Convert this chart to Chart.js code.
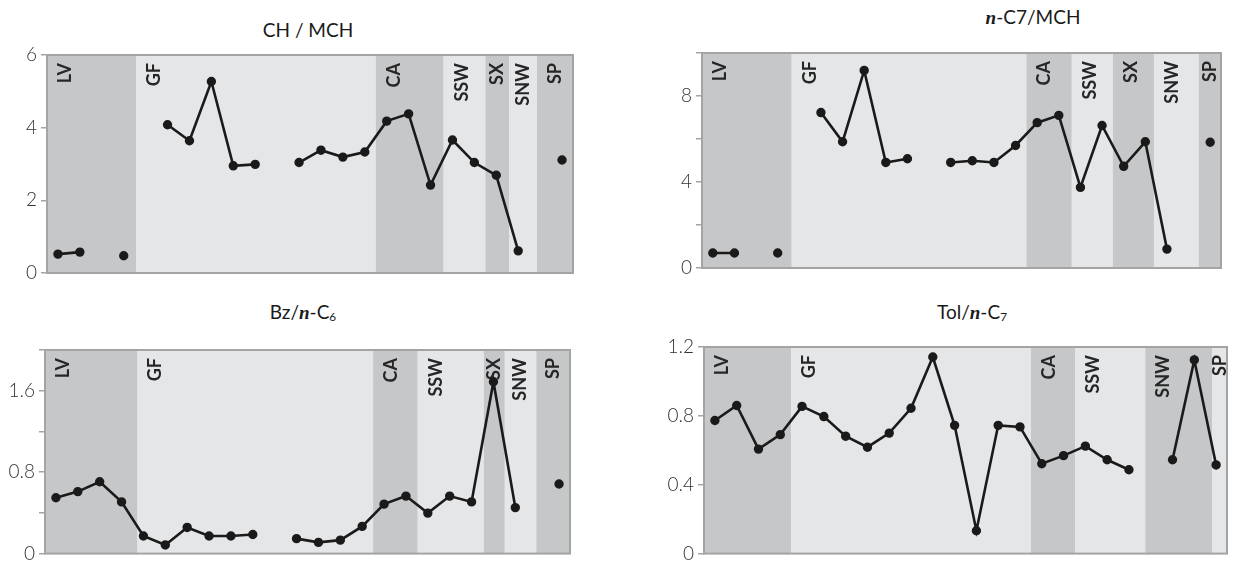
<!DOCTYPE html>
<html>
<head>
<meta charset="utf-8">
<script src="https://cdn.jsdelivr.net/npm/chart.js@4.4.1/dist/chart.umd.min.js"></script>
<style>
  body { margin: 0; background: #fff; }
  #page { position: relative; width: 1233px; height: 569px; overflow: hidden; font-family: Lato, "DejaVu Sans", sans-serif; }
  canvas { position: absolute; }
  .title { position: absolute; transform: translate(-50%, -50%); font-size: 19px; color: #1a1a1a; white-space: nowrap; }
  .title i { font-family: "Liberation Serif", serif; font-weight: bold; }
  .title sub { font-size: 0.62em; vertical-align: -0.2em; }
</style>
</head>
<body>
<div id="page">
  <div class="title" style="left:308px;top:29px">CH / MCH</div>
  <div class="title" style="left:1033px;top:17px"><i>n</i>-C7/MCH</div>
  <div class="title" style="left:303px;top:312px">Bz/<i>n</i>-C<sub>6</sub></div>
  <div class="title" style="left:972px;top:312px">Tol/<i>n</i>-C<sub>7</sub></div>
  <canvas id="chMch" width="600" height="290" style="left:0;top:0"></canvas>
  <canvas id="nc7Mch" width="613" height="290" style="left:620px;top:0"></canvas>
  <canvas id="bzNc6" width="600" height="279" style="left:0;top:290px"></canvas>
  <canvas id="tolNc7" width="613" height="279" style="left:620px;top:290px"></canvas>
</div>
<script>
// 24 samples along x, null = no measurement
const samples = ["1", "2", "3", "4", "5", "6", "7", "8", "9", "10", "11", "12",
  "13", "14", "15", "16", "17", "18", "19", "20", "21", "22", "23", "24"];

const chMch = [0.52, 0.575, null, 0.475, null, 4.08, 3.64, 5.27, 2.95, 2.99, null, 3.04,
  3.38, 3.19, 3.33, 4.18, 4.38, 2.42, 3.66, 3.04, 2.69, 0.61, null, 3.11];
const nc7Mch = [0.7, 0.7, null, 0.7, null, 7.23, 5.87, 9.19, 4.91, 5.08, null, 4.91,
  4.99, 4.91, 5.7, 6.76, 7.1, 3.75, 6.63, 4.73, 5.87, 0.88, null, 5.85];
const bzNc6 = [0.549, 0.609, 0.706, 0.508, 0.173, 0.085, 0.257, 0.173, 0.173, 0.188, null, 0.147,
  0.11, 0.132, 0.267, 0.486, 0.565, 0.398, 0.565, 0.508, 1.688, 0.452, null, 0.684];
const tolNc7 = [0.773, 0.86, 0.607, 0.691, 0.855, 0.796, 0.682, 0.618, 0.7, 0.844, 1.142, 0.745,
  0.133, 0.745, 0.736, 0.522, 0.569, 0.624, 0.545, 0.487, null, 0.545, 1.125, 0.515];

// sample groups: names and where each group ends (in samples)
const groups1 = ["LV", "GF", "CA", "SSW", "SX", "SNW", "SP"];
const groupEnds1 = [4.08, 15, 18.1, 20, 21.1, 22.35, 24];
const groups2 = ["LV", "GF", "CA", "SSW", "SX", "SNW", "SP"];
const groupEnds2 = [4.15, 15, 17.1, 19, 20.9, 22.97, 24];
const groups3 = ["LV", "GF", "CA", "SSW", "SX", "SNW", "SP"];
const groupEnds3 = [4.23, 15, 17.04, 20.06, 21.02, 22.46, 24];
const groups4 = ["LV", "GF", "CA", "SSW", "SNW", "SP"];
const groupEnds4 = [4, 15, 17.03, 20.25, 23.33, 24];

// y axes: max, tick step, label only every n units
const yAxis1 = [6, 2, 2];
const yAxis2 = [10, 2, 4];
const yAxis3 = [2, 0.4, 0.8];
const yAxis4 = [1.2, 0.4, 0.4];

Chart.defaults.font.family = "Lato, 'DejaVu Sans', sans-serif";

const bands = {
  id: "bands",
  beforeDatasetsDraw(chart, args, opts) {
    const { ctx, chartArea: a, scales: { x } } = chart;
    ctx.save();
    let start = 0;
    opts.ends.forEach((end, i) => {
      const l = x.getPixelForValue(start - 0.5);
      const r = x.getPixelForValue(end - 0.5);
      ctx.fillStyle = i % 2 ? "#e5e6e8" : "#c6c7c9";
      ctx.fillRect(l, a.top, r - l, a.bottom - a.top);
      start = end;
    });
    ctx.strokeStyle = "#a4a4a4";
    ctx.lineWidth = 2;
    ctx.strokeRect(a.left, a.top, a.right - a.left, a.bottom - a.top);

    ctx.font = "bold 18px Lato, 'DejaVu Sans', sans-serif";
    ctx.fillStyle = "#262626";
    ctx.textAlign = "right";
    ctx.textBaseline = "middle";
    start = 0;
    opts.names.forEach((name, i) => {
      const l = x.getPixelForValue(start - 0.5);
      const r = x.getPixelForValue(opts.ends[i] - 0.5);
      ctx.save();
      ctx.translate(l + Math.min(18, (r - l) / 2), a.top + 8);
      ctx.rotate(-Math.PI / 2);
      ctx.fillText(name, 0, 0);
      ctx.restore();
      start = opts.ends[i];
    });
    ctx.restore();
  },
};

function makePanel(id, values, names, ends, yAxis, box) {
  const [max, step, every] = yAxis;
  return new Chart(id, {
    type: "line",
    data: {
      labels: samples,
      datasets: [
        {
          data: values,
          borderColor: "#1a1a1a",
          backgroundColor: "#1a1a1a",
          borderWidth: 2.6,
          pointRadius: 3.4,
          pointHoverRadius: 3.4,
          tension: 0,
          spanGaps: false,
          clip: false,
        },
      ],
    },
    options: {
      responsive: false,
      animation: false,
      layout: { padding: { left: 0, top: box.top, right: box.right, bottom: box.bottom } },
      plugins: {
        legend: { display: false },
        tooltip: { enabled: false },
        bands: { names: names, ends: ends },
      },
      scales: {
        x: { display: false, offset: true },
        y: {
          min: 0,
          max: max,
          afterFit: (s) => { s.width = box.left; },
          border: { display: false },
          grid: { drawOnChartArea: false, drawTicks: true, tickLength: 6, color: "#a4a4a4", lineWidth: 1.5 },
          ticks: {
            stepSize: step,
            autoSkip: false,
            padding: 4,
            color: "#333",
            font: { size: 19, weight: "300" },
            callback: function (value) {
              const k = value / every;
              const v = Math.round(value * 1000) / 1000;
              return Math.abs(k - Math.round(k)) < 1e-6 ? String(v) : "";
            },
          },
        },
      },
    },
    plugins: [bands],
  });
}

makePanel("chMch", chMch, groups1, groupEnds1, yAxis1, { left: 47, top: 55, right: 27, bottom: 17 });
makePanel("nc7Mch", nc7Mch, groups2, groupEnds2, yAxis2, { left: 82, top: 53, right: 12, bottom: 22 });
makePanel("bzNc6", bzNc6, groups3, groupEnds3, yAxis3, { left: 45, top: 60, right: 30, bottom: 2 });
makePanel("tolNc7", tolNc7, groups4, groupEnds4, yAxis4, { left: 84, top: 57, right: 6, bottom: 2 });
</script>
</body>
</html>
